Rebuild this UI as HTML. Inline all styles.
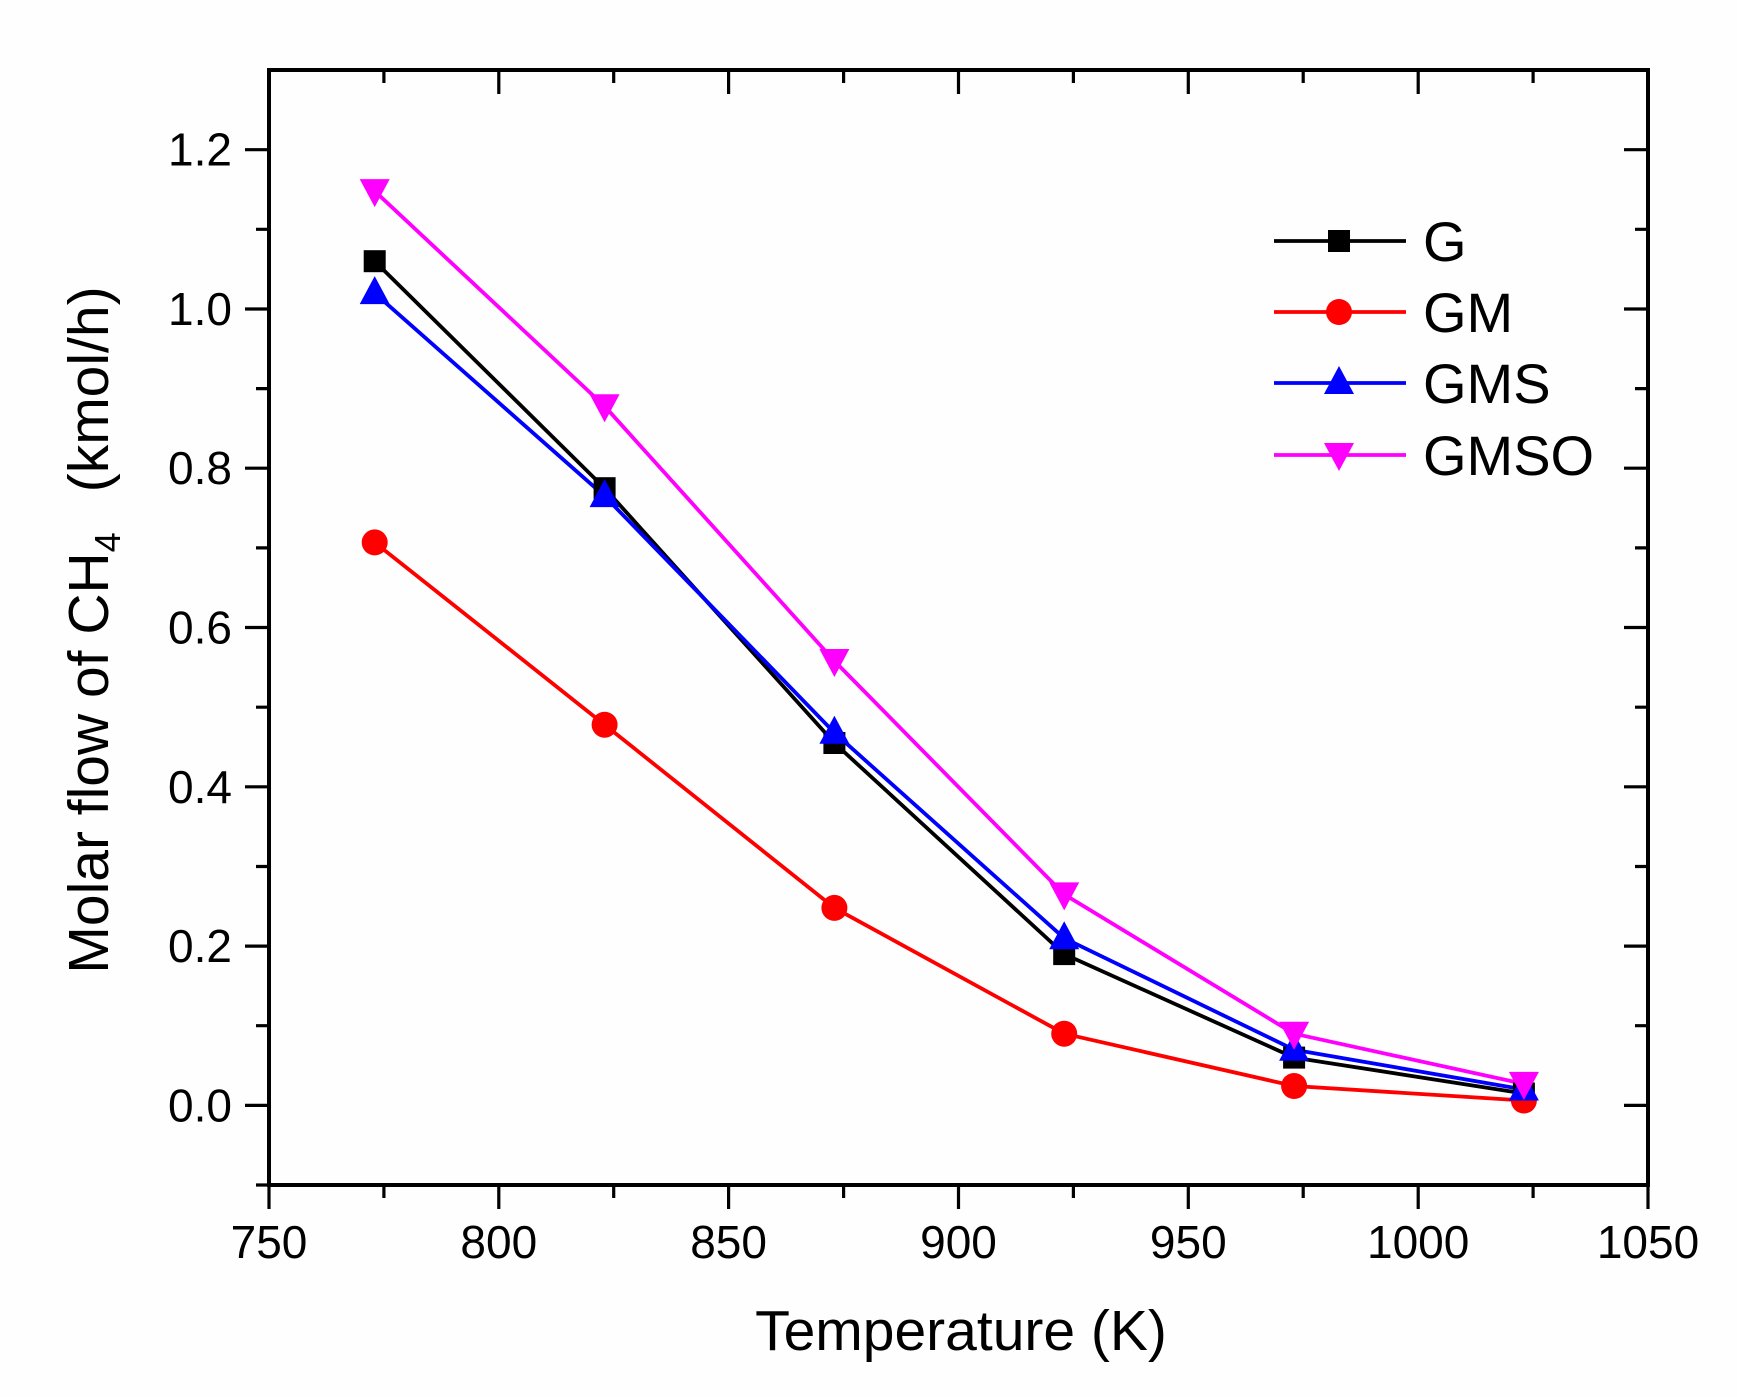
<!DOCTYPE html>
<html><head><meta charset="utf-8"><style>
html,body{margin:0;padding:0;background:#fefefe}
svg{display:block}
text{font-family:"Liberation Sans",Arial,sans-serif;fill:#000}
</style></head><body>
<svg width="1737" height="1397" viewBox="0 0 1737 1397" xmlns="http://www.w3.org/2000/svg">
<rect width="1737" height="1397" fill="#fefefe"/>
<defs>
<rect id="sq" x="-11" y="-11" width="22" height="22" fill="#000"/>
<circle id="ci" r="13" fill="#f00"/>
<polygon id="tu" points="0,-17 15,11 -15,11" fill="#00f"/>
<polygon id="td" points="0,16 15,-12 -15,-12" fill="#f0f"/>
</defs>
<g stroke="#000" stroke-width="3.2" fill="none">
<path d="M269 1185v24M498.8 1185v24M728.6 1185v24M958.5 1185v24M1188.3 1185v24M1418.2 1185v24M1648 1185v24"/>
<path d="M383.9 1185v13M613.7 1185v13M843.6 1185v13M1073.4 1185v13M1303.2 1185v13M1533.1 1185v13"/>
<path d="M498.8 70v24M728.6 70v24M958.5 70v24M1188.3 70v24M1418.2 70v24"/>
<path d="M383.9 70v13M613.7 70v13M843.6 70v13M1073.4 70v13M1303.2 70v13M1533.1 70v13"/>
<path d="M269 1105.4h-24M269 946.1h-24M269 786.8h-24M269 627.5h-24M269 468.2h-24M269 309h-24M269 149.7h-24"/>
<path d="M269 1185h-13M269 1025.7h-13M269 866.5h-13M269 707.2h-13M269 547.9h-13M269 388.6h-13M269 229.3h-13"/>
<path d="M1648 1105.4h-24M1648 946.1h-24M1648 786.8h-24M1648 627.5h-24M1648 468.2h-24M1648 309h-24M1648 149.7h-24"/>
<path d="M1648 1025.7h-13M1648 866.5h-13M1648 707.2h-13M1648 547.9h-13M1648 388.6h-13M1648 229.3h-13"/>
</g>
<rect x="269" y="70" width="1379" height="1115" fill="none" stroke="#000" stroke-width="4"/>

<g stroke-width="3.8" fill="none" stroke-linejoin="round">
<polyline stroke="#000" points="374.7,261.2 604.6,488.2 834.4,743 1064.2,954.1 1294.1,1057.6 1523.9,1093.5"/>
<polyline stroke="#f00" points="374.7,542.4 604.6,724.7 834.4,907.9 1064.2,1033.7 1294.1,1086 1523.9,1100.5"/>
<polyline stroke="#00f" points="374.7,293.1 604.6,496.1 834.4,732.7 1064.2,938.2 1294.1,1049.7 1523.9,1089.5"/>
<polyline stroke="#f0f" points="374.7,191.1 604.6,406.2 834.4,661 1064.2,894.4 1294.1,1033.7 1523.9,1083.9"/>
</g>
<use href="#sq" x="374.7" y="261.2"/><use href="#sq" x="604.6" y="488.2"/><use href="#sq" x="834.4" y="743"/><use href="#sq" x="1064.2" y="954.1"/><use href="#sq" x="1294.1" y="1057.6"/><use href="#sq" x="1523.9" y="1093.5"/>
<use href="#ci" x="374.7" y="542.4"/><use href="#ci" x="604.6" y="724.7"/><use href="#ci" x="834.4" y="907.9"/><use href="#ci" x="1064.2" y="1033.7"/><use href="#ci" x="1294.1" y="1086"/><use href="#ci" x="1523.9" y="1100.5"/>
<use href="#tu" x="374.7" y="293.1"/><use href="#tu" x="604.6" y="496.1"/><use href="#tu" x="834.4" y="732.7"/><use href="#tu" x="1064.2" y="938.2"/><use href="#tu" x="1294.1" y="1049.7"/><use href="#tu" x="1523.9" y="1089.5"/>
<use href="#td" x="374.7" y="191.1"/><use href="#td" x="604.6" y="406.2"/><use href="#td" x="834.4" y="661"/><use href="#td" x="1064.2" y="894.4"/><use href="#td" x="1294.1" y="1033.7"/><use href="#td" x="1523.9" y="1083.9"/>

<g stroke-width="3.8">
<line x1="1274" y1="241" x2="1406" y2="241" stroke="#000"/>
<line x1="1274" y1="312" x2="1406" y2="312" stroke="#f00"/>
<line x1="1274" y1="383" x2="1406" y2="383" stroke="#00f"/>
<line x1="1274" y1="455" x2="1406" y2="455" stroke="#f0f"/>
</g>
<use href="#sq" x="1339" y="241"/><use href="#ci" x="1339" y="312"/><use href="#tu" x="1339" y="383"/><use href="#td" x="1339" y="455"/>
<g font-size="56">
<text x="1423" y="261">G</text>
<text x="1423" y="332">GM</text>
<text x="1423" y="403">GMS</text>
<text x="1423" y="475">GMSO</text>
</g>

<g font-size="46" text-anchor="middle">
<text x="269" y="1258">750</text><text x="498.8" y="1258">800</text><text x="728.6" y="1258">850</text><text x="958.5" y="1258">900</text><text x="1188.3" y="1258">950</text><text x="1418.2" y="1258">1000</text><text x="1648" y="1258">1050</text>
</g>
<g font-size="46" text-anchor="end">
<text x="232" y="1121.4">0.0</text><text x="232" y="962.1">0.2</text><text x="232" y="802.8">0.4</text><text x="232" y="643.5">0.6</text><text x="232" y="484.2">0.8</text><text x="232" y="325">1.0</text><text x="232" y="165.7">1.2</text>
</g>
<text x="961" y="1350" font-size="57" text-anchor="middle">Temperature (K)</text>
<text transform="translate(108,630) rotate(-90)" font-size="57" text-anchor="middle">Molar flow of CH<tspan font-size="36" dy="12">4</tspan><tspan dy="-12" dx="40">(kmol/h)</tspan></text>
</svg>
</body></html>
